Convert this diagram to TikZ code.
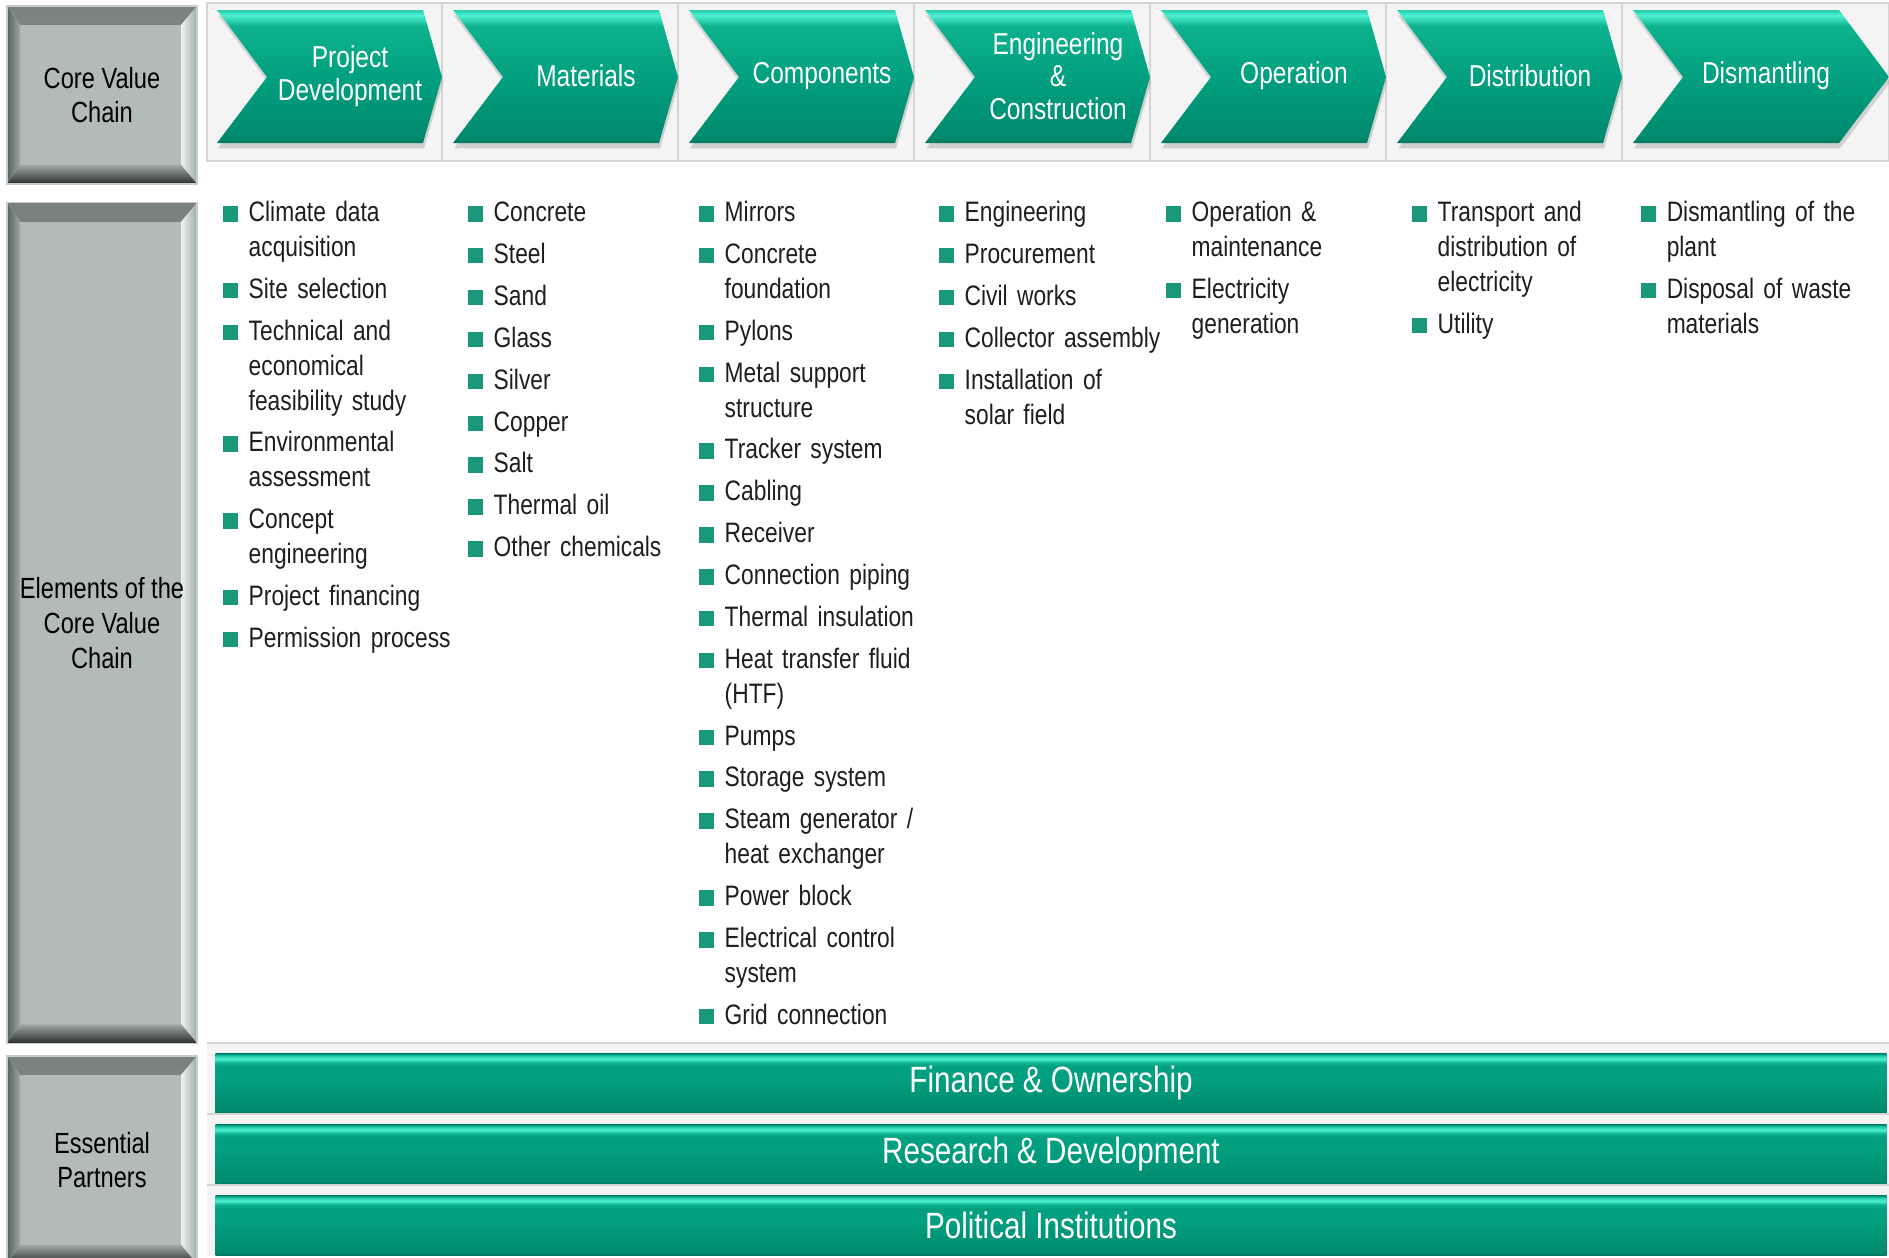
\documentclass[tikz,border=0pt]{standalone}
\usepackage{fontspec}
\setmainfont[FakeStretch=0.81]{Liberation Sans}
\usetikzlibrary{shadows}

\definecolor{bulgreen}{RGB}{26,152,122}
\definecolor{textdark}{RGB}{30,30,30}
\definecolor{panelgray}{RGB}{244,244,244}
\definecolor{sepgray}{RGB}{212,212,212}
\definecolor{boxface}{RGB}{178,187,185}
\definecolor{boxedge}{RGB}{200,204,204}
\definecolor{bevtopO}{RGB}{120,129,128}
\definecolor{bevtopI}{RGB}{166,175,173}
\definecolor{bevleftO}{RGB}{88,96,95}
\definecolor{bevleftI}{RGB}{158,167,165}
\definecolor{bevrightO}{RGB}{160,169,167}
\definecolor{bevrightI}{RGB}{236,244,243}
\definecolor{bevbotO}{RGB}{40,44,44}
\definecolor{bevbotI}{RGB}{160,169,167}
% teal tones
\definecolor{tealEdge}{RGB}{0,118,94}
\definecolor{tealLow}{RGB}{0,138,110}
\definecolor{tealMid}{RGB}{2,160,128}
\definecolor{tealUp}{RGB}{14,178,142}
\definecolor{tealHi}{RGB}{78,240,210}
\definecolor{tealTop}{RGB}{40,205,172}

\pgfdeclareverticalshading{chevshade}{100bp}{color(0bp)=(tealEdge); color(25bp)=(tealEdge); color(27bp)=(tealLow); color(50bp)=(tealMid); color(69bp)=(tealUp); color(73bp)=(tealHi); color(75bp)=(tealTop); color(100bp)=(tealTop)}
\pgfdeclareverticalshading{barshade}{100bp}{color(0bp)=(tealEdge); color(25bp)=(tealEdge); color(27bp)=(tealLow); color(55bp)=(tealMid); color(64bp)=(tealMid); color(67bp)=(tealUp); color(70bp)=(tealHi); color(72.5bp)=(tealTop); color(74bp)=(tealMid); color(75bp)=(tealEdge); color(100bp)=(tealEdge)}

\newlength{\bulind}
\setlength{\bulind}{0.26cm}
\newcommand{\bulsq}{\textcolor{bulgreen}{\rule{4.4pt}{4.4pt}}}
\newcommand{\bitem}[1]{\par\hangindent=\bulind\hangafter=1\noindent\makebox[\bulind][l]{\rule{0pt}{7pt}\bulsq}#1}

\begin{document}
\begin{tikzpicture}[
    x = 0.01cm, y = -0.01cm,
    chevron/.style = {shade, shading=chevshade, drop shadow={shadow xshift=0.3pt, shadow yshift=-1.5pt, opacity=0.3}},
    chevlabel/.style = {align=center, text=white, inner sep=0pt, font=\fontsize{8.6}{9.3}\selectfont},
    graybox/.style = {rectangle, inner sep=0pt, minimum width=1.9cm, fill=boxface, draw=boxedge, align=center, text=black, font=\fontsize{8.3}{9.9}\selectfont,
        path picture={
            \fill[top color=bevtopO, bottom color=bevtopI] (path picture bounding box.north west) -- (path picture bounding box.north east) -- ([xshift=-1.6mm, yshift=-1.9mm]path picture bounding box.north east) -- ([xshift=1.3mm, yshift=-1.9mm]path picture bounding box.north west) -- cycle;
            \fill[left color=bevleftO, right color=bevleftI] (path picture bounding box.north west) -- ([xshift=1.3mm, yshift=-1.9mm]path picture bounding box.north west) -- ([xshift=1.3mm, yshift=1.9mm]path picture bounding box.south west) -- (path picture bounding box.south west) -- cycle;
            \fill[left color=bevrightI, right color=bevrightO] (path picture bounding box.north east) -- ([xshift=-1.6mm, yshift=-1.9mm]path picture bounding box.north east) -- ([xshift=-1.6mm, yshift=1.9mm]path picture bounding box.south east) -- (path picture bounding box.south east) -- cycle;
            \fill[top color=bevbotI, bottom color=bevbotO] (path picture bounding box.south west) -- (path picture bounding box.south east) -- ([xshift=-1.6mm, yshift=1.9mm]path picture bounding box.south east) -- ([xshift=1.3mm, yshift=1.9mm]path picture bounding box.south west) -- cycle;
        }},
    bar/.style = {shade, shading=barshade, minimum width=16.70cm, minimum height=0.60cm, inner sep=0pt, text=white, font=\fontsize{10.4}{12}\selectfont},
    bulcol/.style = {anchor=north west, inner sep=0pt, text width=2.6cm, align=left, text=textdark, font=\fontsize{8}{9.92}\selectfont, execute at begin node={\setlength{\parskip}{1.99pt}}},
    sepline/.style = {draw=sepgray, line width=0.5pt}
]
    \clip (0,0) rectangle (1889,1257);

    % Row labels
    \node [graybox, minimum height=1.78cm] (cvc) at (102,95) {Core Value\\Chain};
    \node [graybox, minimum height=8.40cm] (elements) at (102,623) {Elements of the\\Core Value\\Chain};
    \node [graybox, minimum height=2.08cm] (partners) at (102,1160) {Essential\\Partners};

    % Value chain steps
    \fill [panelgray] (207,3) rectangle (1889,161);
    \draw [sepline] (207,3) rectangle (1889,161);
    \foreach \x in {442,678,914,1150,1386,1622}
        \draw [sepline] (\x,3) -- (\x,161);
    \foreach \lab [count=\i from 0, evaluate=\i as \x using 217+236*\i, evaluate=\i as \tip using {\i==6 ? 256 : 225}] in
        {{Project\\Development}, Materials, Components, {Engineering\\\&\\Construction}, Operation, Distribution, Dismantling} {
        \path [chevron] (\x,10) -- (\x+206,10) -- (\x+\tip,77) -- (\x+206,143) -- (\x,143) -- (\x+50,77) -- cycle;
        \node [chevlabel] (chev\i) at (\x+133,76) {\lab};
    }

    % Elements
    \node [bulcol] (pd-list) at (222,179) {\bitem{Climate data\newline acquisition}\bitem{Site selection}\bitem{Technical and\newline economical\newline feasibility study}\bitem{Environmental\newline assessment}\bitem{Concept\newline engineering}\bitem{Project financing}\bitem{Permission process}\par};
    \node [bulcol] (mat-list) at (467,179) {\bitem{Concrete}\bitem{Steel}\bitem{Sand}\bitem{Glass}\bitem{Silver}\bitem{Copper}\bitem{Salt}\bitem{Thermal oil}\bitem{Other chemicals}\par};
    \node [bulcol] (comp-list) at (698,179) {\bitem{Mirrors}\bitem{Concrete\newline foundation}\bitem{Pylons}\bitem{Metal support\newline structure}\bitem{Tracker system}\bitem{Cabling}\bitem{Receiver}\bitem{Connection piping}\bitem{Thermal insulation}\bitem{Heat transfer fluid\newline (HTF)}\bitem{Pumps}\bitem{Storage system}\bitem{Steam generator /\newline heat exchanger}\bitem{Power block}\bitem{Electrical control\newline system}\bitem{Grid connection}\par};
    \node [bulcol] (ec-list) at (938,179) {\bitem{Engineering}\bitem{Procurement}\bitem{Civil works}\bitem{Collector assembly}\bitem{Installation of\newline solar field}\par};
    \node [bulcol] (op-list) at (1165,179) {\bitem{Operation \&\newline maintenance}\bitem{Electricity\newline generation}\par};
    \node [bulcol] (dist-list) at (1411,179) {\bitem{Transport and\newline distribution of\newline electricity}\bitem{Utility}\par};
    \node [bulcol] (dism-list) at (1640,179) {\bitem{Dismantling of the\newline plant}\bitem{Disposal of waste\newline materials}\par};

    % Partners
    \foreach \top/\lab [count=\k] in {1043/Finance \& Ownership, 1114/Research \& Development, 1185/Political Institutions} {
        \fill [panelgray] (207,\top) rectangle (1889,\top+71);
        \draw [sepline] (207,\top) -- (1889,\top);
        \node [bar] (bar\k) at (1051,\top+40) {\lab};
    }
\end{tikzpicture}
\end{document}
